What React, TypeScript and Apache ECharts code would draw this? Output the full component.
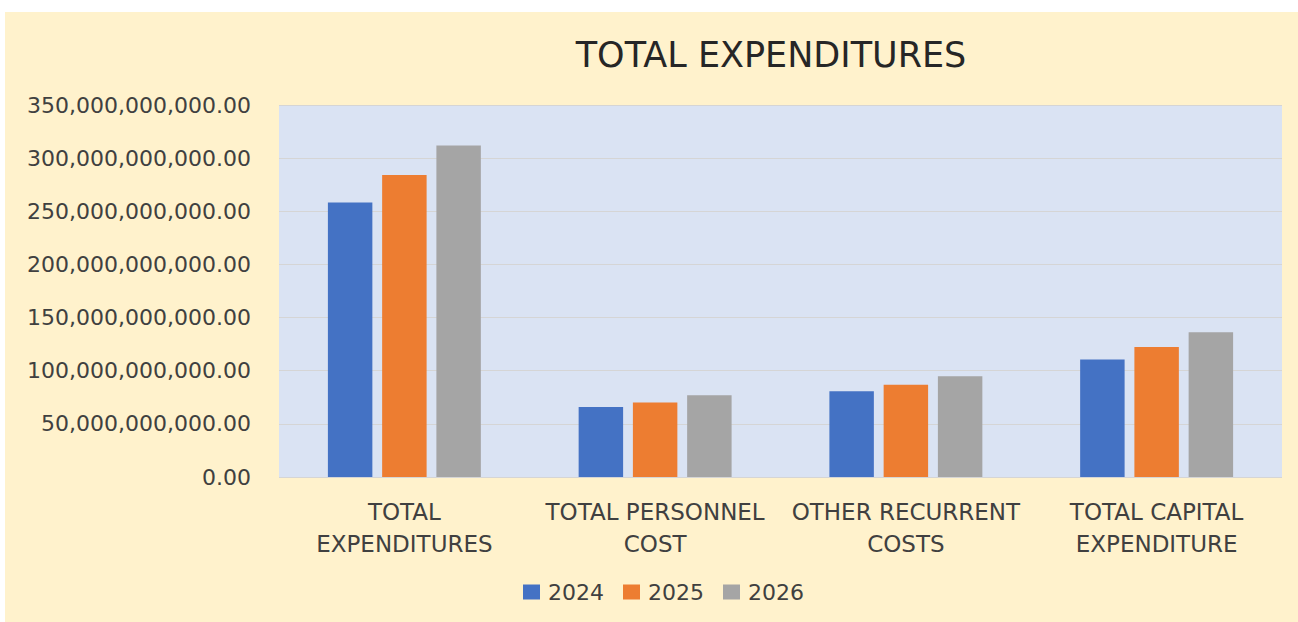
import React, { useEffect, useRef } from "react";
import * as echarts from "echarts";

const categories = [
  "TOTAL\nEXPENDITURES",
  "TOTAL PERSONNEL\nCOST",
  "OTHER RECURRENT\nCOSTS",
  "TOTAL CAPITAL\nEXPENDITURE",
];
const seriesNames = ["2024", "2025", "2026"];
const values2024 = [258.2e9, 65.9e9, 80.6e9, 110.5e9];
const values2025 = [284.2e9, 70.0e9, 86.9e9, 122.3e9];
const values2026 = [311.8e9, 76.9e9, 94.8e9, 136.2e9];
const colors = ["#4472C4", "#ED7D31", "#A5A5A5"];

const fmt = (v: number) =>
  v.toLocaleString("en-US", { minimumFractionDigits: 2, maximumFractionDigits: 2 });

export default function App() {
  const ref = useRef<HTMLDivElement>(null);
  useEffect(() => {
    document.body.style.margin = "0";
    const chart = echarts.init(ref.current!, undefined, { renderer: "svg" });
    const font = "DejaVu Sans";
    const data = [values2024, values2025, values2026];
    chart.setOption({
      animation: false,
      backgroundColor: "#FFF2CC",
      title: {
        text: "TOTAL EXPENDITURES",
        left: 761,
        top: 20,
        textAlign: "center",
        textStyle: { fontFamily: font, fontSize: 35, fontWeight: "normal", color: "#262626" },
      },
      legend: {
        left: 513,
        top: 564,
        itemWidth: 17,
        itemHeight: 15,
        itemGap: 19,
        icon: "rect",
        data: seriesNames,
        textStyle: { fontFamily: font, fontSize: 22, color: "#404040", padding: [0, 0, 0, 3] },
      },
      grid: {
        left: 274,
        top: 93,
        right: 16,
        bottom: 145,
        show: true,
        backgroundColor: "#DAE3F3",
        borderWidth: 0,
      },
      xAxis: {
        type: "category",
        data: categories,
        axisLine: { show: false },
        axisTick: { show: false },
        axisLabel: {
          interval: 0,
          margin: 19,
          lineHeight: 32,
          fontFamily: font,
          fontSize: 23,
          color: "#404040",
        },
      },
      yAxis: {
        type: "value",
        min: 0,
        max: 350e9,
        interval: 50e9,
        axisLine: { show: false },
        axisTick: { show: false },
        splitLine: { lineStyle: { color: "#D5D5D5", width: 1 } },
        axisLabel: {
          margin: 28,
          fontFamily: font,
          fontSize: 22,
          color: "#404040",
          formatter: (v: number) => fmt(v),
        },
      },
      series: seriesNames.map((name, i) => ({
        name,
        type: "bar",
        data: data[i],
        barGap: "22%",
        barCategoryGap: "39%",
        itemStyle: { color: colors[i] },
      })),
    });
    return () => chart.dispose();
  }, []);
  return (
    <div style={{ position: "relative", width: 1298, height: 622, background: "#fff" }}>
      <div
        ref={ref}
        style={{ position: "absolute", left: 5, top: 12, width: 1293, height: 610 }}
      />
    </div>
  );
}
